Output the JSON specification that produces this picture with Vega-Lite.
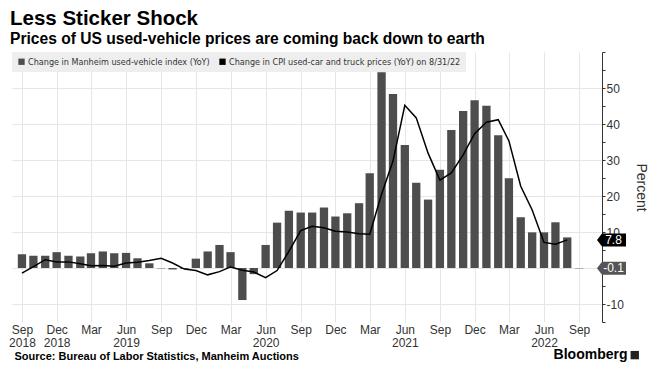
{
  "$schema": "https://vega.github.io/schema/vega-lite/v6.json",
  "width": 590,
  "height": 270,
  "autosize": {"type": "none"},
  "padding": {"left": 12, "top": 52, "right": 56, "bottom": 60},
  "background": "white",
  "title": {
    "text": "Less Sticker Shock",
    "subtitle": "Prices of US used-vehicle prices are coming back down to earth",
    "anchor": "start",
    "frame": "group",
    "offset": -2,
    "font": "Liberation Sans",
    "fontSize": 20.5,
    "fontWeight": "bold",
    "color": "#000000",
    "subtitleFont": "Liberation Sans",
    "subtitleFontSize": 15.6,
    "subtitleFontWeight": "bold",
    "subtitleColor": "#000000",
    "subtitlePadding": 3,
    "dx": -2
  },
  "config": {
    "view": {"stroke": null},
    "axis": {"labelFont": "Liberation Sans", "titleFont": "Liberation Sans", "labelColor": "#333333", "titleColor": "#333333"},
    "legend": {"labelFont": "Liberation Sans Narrow, DejaVu Sans Condensed, Liberation Sans, sans-serif"}
  },
  "datasets": {
    "main": [
      {"date": "2018-09-01", "manheim": 3.8, "cpi": -1.4},
      {"date": "2018-10-01", "manheim": 3.4, "cpi": 0.4},
      {"date": "2018-11-01", "manheim": 3.4, "cpi": 2.3},
      {"date": "2018-12-01", "manheim": 4.4, "cpi": 1.7},
      {"date": "2019-01-01", "manheim": 3.4, "cpi": 1.7},
      {"date": "2019-02-01", "manheim": 3.2, "cpi": 1.2},
      {"date": "2019-03-01", "manheim": 4.1, "cpi": 0.6},
      {"date": "2019-04-01", "manheim": 4.6, "cpi": 0.7},
      {"date": "2019-05-01", "manheim": 4.1, "cpi": 0.5},
      {"date": "2019-06-01", "manheim": 4.2, "cpi": 1.4},
      {"date": "2019-07-01", "manheim": 2.7, "cpi": 1.6},
      {"date": "2019-08-01", "manheim": 1.3, "cpi": 2.1},
      {"date": "2019-09-01", "manheim": -0.1, "cpi": 2.7},
      {"date": "2019-10-01", "manheim": -0.4, "cpi": 1.4},
      {"date": "2019-11-01", "manheim": -0.2, "cpi": -0.3},
      {"date": "2019-12-01", "manheim": 2.6, "cpi": -0.7},
      {"date": "2020-01-01", "manheim": 4.6, "cpi": -1.9},
      {"date": "2020-02-01", "manheim": 6.4, "cpi": -1.0},
      {"date": "2020-03-01", "manheim": 4.4, "cpi": 0.3},
      {"date": "2020-04-01", "manheim": -8.9, "cpi": -0.6},
      {"date": "2020-05-01", "manheim": -1.7, "cpi": -1.1},
      {"date": "2020-06-01", "manheim": 6.4, "cpi": -2.7},
      {"date": "2020-07-01", "manheim": 12.6, "cpi": -0.7},
      {"date": "2020-08-01", "manheim": 15.9, "cpi": 4.6},
      {"date": "2020-09-01", "manheim": 15.4, "cpi": 10.4},
      {"date": "2020-10-01", "manheim": 15.4, "cpi": 11.6},
      {"date": "2020-11-01", "manheim": 16.8, "cpi": 11.2},
      {"date": "2020-12-01", "manheim": 14.3, "cpi": 10.2},
      {"date": "2021-01-01", "manheim": 15.2, "cpi": 10.0},
      {"date": "2021-02-01", "manheim": 18.0, "cpi": 9.5},
      {"date": "2021-03-01", "manheim": 26.3, "cpi": 9.4},
      {"date": "2021-04-01", "manheim": 54.4, "cpi": 20.5},
      {"date": "2021-05-01", "manheim": 48.3, "cpi": 29.7},
      {"date": "2021-06-01", "manheim": 34.2, "cpi": 45.2},
      {"date": "2021-07-01", "manheim": 23.7, "cpi": 41.7},
      {"date": "2021-08-01", "manheim": 19.0, "cpi": 31.9},
      {"date": "2021-09-01", "manheim": 27.3, "cpi": 24.4},
      {"date": "2021-10-01", "manheim": 38.3, "cpi": 26.4},
      {"date": "2021-11-01", "manheim": 43.6, "cpi": 31.4},
      {"date": "2021-12-01", "manheim": 46.6, "cpi": 37.3},
      {"date": "2022-01-01", "manheim": 45.1, "cpi": 40.5},
      {"date": "2022-02-01", "manheim": 36.9, "cpi": 41.2},
      {"date": "2022-03-01", "manheim": 24.9, "cpi": 35.3},
      {"date": "2022-04-01", "manheim": 14.1, "cpi": 22.7},
      {"date": "2022-05-01", "manheim": 9.9, "cpi": 16.1},
      {"date": "2022-06-01", "manheim": 9.9, "cpi": 7.1},
      {"date": "2022-07-01", "manheim": 12.7, "cpi": 6.6},
      {"date": "2022-08-01", "manheim": 8.5, "cpi": 7.8},
      {"date": "2022-09-01", "manheim": -0.1, "cpi": null}
    ],
    "tags": [
      {"series": "cpi", "value": 7.8, "label": "7.8"},
      {"series": "manheim", "value": -0.1, "label": "-0.1"}
    ]
  },
  "layer": [
    {
      "data": {"name": "main"},
      "mark": {"type": "bar", "size": 8.3},
      "encoding": {
        "x": {
          "field": "date",
          "type": "temporal",
          "scale": {"type": "utc", "nice": false, "domain": [{"year": 2018, "month": 8, "date": 19, "utc": true}, {"year": 2022, "month": 10, "date": 18, "utc": true}]},
          "axis": {
            "values": [
              {"year": 2018, "month": 9, "date": 1, "utc": true},
              {"year": 2018, "month": 12, "date": 1, "utc": true},
              {"year": 2019, "month": 3, "date": 1, "utc": true},
              {"year": 2019, "month": 6, "date": 1, "utc": true},
              {"year": 2019, "month": 9, "date": 1, "utc": true},
              {"year": 2019, "month": 12, "date": 1, "utc": true},
              {"year": 2020, "month": 3, "date": 1, "utc": true},
              {"year": 2020, "month": 6, "date": 1, "utc": true},
              {"year": 2020, "month": 9, "date": 1, "utc": true},
              {"year": 2020, "month": 12, "date": 1, "utc": true},
              {"year": 2021, "month": 3, "date": 1, "utc": true},
              {"year": 2021, "month": 6, "date": 1, "utc": true},
              {"year": 2021, "month": 9, "date": 1, "utc": true},
              {"year": 2021, "month": 12, "date": 1, "utc": true},
              {"year": 2022, "month": 3, "date": 1, "utc": true},
              {"year": 2022, "month": 6, "date": 1, "utc": true},
              {"year": 2022, "month": 9, "date": 1, "utc": true}
            ],
            "tickCount": 100,
            "labelExpr": "[utcFormat(datum.value, '%b'), (utcFormat(datum.value, '%m') == '06' || utcFormat(datum.value, '%Y') == '2018') ? utcFormat(datum.value, '%Y') : '']",
            "labelLineHeight": 13,
            "labelFontSize": 12,
            "labelPadding": 2,
            "labelAlign": "center",
            "labelOverlap": false,
            "grid": true,
            "gridColor": "#e6e6e6",
            "ticks": false,
            "domain": false,
            "title": "Source: Bureau of Labor Statistics, Manheim Auctions",
            "titleFont": "Liberation Sans",
            "titleFontSize": 11,
            "titleFontWeight": "bold",
            "titleColor": "#000000",
            "titleAnchor": "start",
            "titleAlign": "left",
            "titlePadding": 2,
            "titleX": 2
          }
        },
        "y": {
          "field": "manheim",
          "type": "quantitative",
          "scale": {"domain": [-15, 60], "nice": false, "zero": false},
          "axis": {
            "orient": "right",
            "values": [-15, -10, -5, 0, 5, 10, 15, 20, 25, 30, 35, 40, 45, 50, 55, 60],
            "tickCount": 100,
            "labelOverlap": false,
            "labelExpr": "(datum.value % 10 === 0 && datum.value <= 50 && datum.value !== 0) ? '' + datum.value : ''",
            "labelFontSize": 12,
            "labelPadding": 1,
            "tickSize": 3,
            "tickColor": "#333333",
            "domainColor": "#333333",
            "grid": true,
            "gridColor": {"condition": {"test": "datum.value % 10 === 0 && datum.value <= 50", "value": "#e6e6e6"}, "value": "rgba(0,0,0,0)"},
            "title": "Percent",
            "titleFontSize": 14,
            "titleFontWeight": "normal",
            "titlePadding": 10
          }
        },
        "color": {
          "datum": "Change in Manheim used-vehicle index (YoY)",
          "type": "nominal",
          "scale": {
            "domain": ["Change in Manheim used-vehicle index (YoY)", "Change in CPI used-car and truck prices (YoY) on 8/31/22"],
            "range": ["#4d4d4d", "#000000"]
          },
          "legend": {
            "title": null,
            "orient": "top-left",
            "offset": 0,
            "direction": "horizontal",
            "fillColor": "#eeeeee",
            "padding": 5,
            "symbolType": "square",
            "symbolSize": 40,
            "symbolStrokeWidth": 0,
            "labelFontSize": 9,
            "labelColor": "#333333",
            "labelOffset": 2,
            "columnPadding": 8,
            "labelLimit": 400,
            "encode": {
              "symbols": {"update": {"fill": {"scale": "color", "field": "value"}, "stroke": {"value": "transparent"}}}
            }
          }
        }
      }
    },
    {
      "data": {"name": "main"},
      "mark": {"type": "line", "strokeWidth": 1.5, "interpolate": "linear"},
      "encoding": {
        "x": {"field": "date", "type": "temporal"},
        "y": {"field": "cpi", "type": "quantitative"},
        "color": {"datum": "Change in CPI used-car and truck prices (YoY) on 8/31/22", "type": "nominal"}
      }
    },
    {
      "data": {"name": "tags"},
      "mark": {"type": "point", "filled": true, "clip": false, "size": 841, "strokeWidth": 0, "opacity": 1,
        "shape": "M -1 0 L -0.655 -0.448 L 1 -0.448 L 1 0.448 L -0.655 0.448 Z"},
      "encoding": {
        "x": {"datum": {"year": 2022, "month": 11, "date": 25, "utc": true}, "type": "temporal"},
        "y": {"field": "value", "type": "quantitative"},
        "fill": {"field": "series", "type": "nominal", "scale": {"domain": ["cpi", "manheim"], "range": ["#000000", "#555555"]}, "legend": null}
      }
    },
    {
      "data": {"name": "tags"},
      "mark": {"type": "text", "clip": false, "color": "#ffffff", "fontSize": 12, "font": "Liberation Sans", "align": "center", "baseline": "middle", "dx": 2},
      "encoding": {
        "x": {"datum": {"year": 2022, "month": 11, "date": 25, "utc": true}, "type": "temporal"},
        "y": {"field": "value", "type": "quantitative"},
        "text": {"field": "label"}
      }
    },
    {
      "data": {"values": [{"brand": "Bloomberg"}]},
      "mark": {"type": "text", "clip": false, "color": "#000000", "fontSize": 14, "font": "Liberation Sans", "fontWeight": "bold", "align": "right", "baseline": "alphabetic"},
      "encoding": {
        "x": {"datum": {"year": 2023, "month": 1, "date": 6, "utc": true}, "type": "temporal"},
        "y": {"datum": -25.4, "type": "quantitative"},
        "text": {"field": "brand"}
      }
    },
    {
      "data": {"values": [{"brand": "logo"}]},
      "mark": {"type": "point", "shape": "square", "filled": true, "clip": false, "size": 70, "color": "#222222", "opacity": 1},
      "encoding": {
        "x": {"datum": {"year": 2023, "month": 1, "date": 25, "utc": true}, "type": "temporal"},
        "y": {"datum": -24.2, "type": "quantitative"}
      }
    }
  ]
}
